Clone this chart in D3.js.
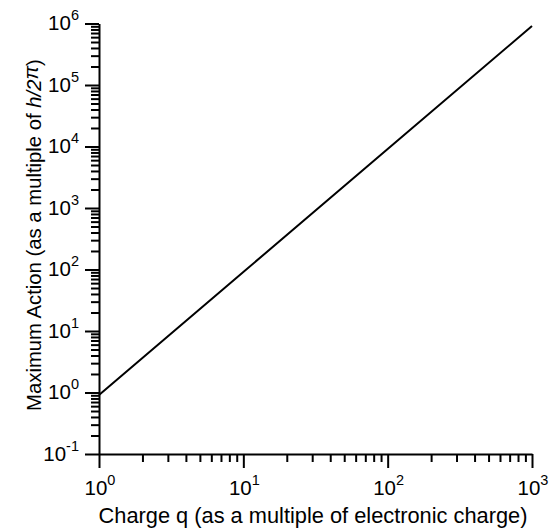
<!DOCTYPE html>
<html>
<head>
<meta charset="utf-8">
<script src="https://cdn.jsdelivr.net/npm/d3@7"></script>
<style>
  body { margin: 0; background: white; }
  text { font-family: "Liberation Sans", Arial, sans-serif; fill: black; }
</style>
</head>
<body>
<div id="canvas"></div>
<script>
// data
const charge = [1, 10, 100, 1000];
const maxAction = [0.91, 91, 9100, 910000];
const xMajorTicks = [1, 10, 100, 1000];
const xTickExponents = ["0", "1", "2", "3"];
const yMajorTicks = [0.1, 1, 10, 100, 1000, 10000, 100000, 1000000];
const yTickExponents = ["-1", "0", "1", "2", "3", "4", "5", "6"];

const width = 549, height = 529;

const svg = d3.select("#canvas")
    .append("svg")
    .attr("width", width)
    .attr("height", height);

// scales
const x = d3.scaleLog()
    .domain([1, 1000])
    .range([99, 532]);

const y = d3.scaleLog()
    .domain([0.1, 1000000])
    .range([454, 23.5]);

// minor ticks 2..9 in every decade
function minorTicks(majors) {
    let out = [];
    majors.slice(0, -1).forEach(m => {
        for (let k = 2; k <= 9; k++) out.push(m * k);
    });
    return out;
}

// x axis
svg.append("g")
    .attr("transform", "translate(0," + y(0.1) + ")")
    .call(d3.axisBottom(x).tickValues(minorTicks(xMajorTicks)).tickSize(8).tickFormat(""))
    .call(g => g.select(".domain").remove());

svg.append("g")
    .attr("transform", "translate(0," + y(0.1) + ")")
    .call(d3.axisBottom(x).tickValues(xMajorTicks).tickSize(14).tickSizeOuter(0).tickFormat(""));

// y axis
svg.append("g")
    .attr("transform", "translate(" + x(1) + ",0)")
    .call(d3.axisLeft(y).tickValues(minorTicks(yMajorTicks)).tickSize(8).tickFormat(""))
    .call(g => g.select(".domain").remove());

svg.append("g")
    .attr("transform", "translate(" + x(1) + ",0)")
    .call(d3.axisLeft(y).tickValues(yMajorTicks).tickSize(14).tickSizeOuter(0).tickFormat(""));

svg.selectAll(".tick line, .domain")
    .attr("stroke", "black")
    .attr("stroke-width", 2);

// tick labels with superscripts
const xLabel = svg.selectAll(".xlab")
    .data(xMajorTicks)
    .join("text")
    .attr("class", "xlab")
    .attr("x", d => x(d) + 1)
    .attr("y", y(0.1) + 41)
    .attr("text-anchor", "middle")
    .attr("font-size", 20.5);
xLabel.append("tspan").text("10");
xLabel.append("tspan")
    .attr("font-size", 14.5)
    .attr("dy", -10)
    .text((d, i) => xTickExponents[i]);

const yLabel = svg.selectAll(".ylab")
    .data(yMajorTicks)
    .join("text")
    .attr("class", "ylab")
    .attr("x", 79)
    .attr("y", d => y(d) + 6.5)
    .attr("text-anchor", "end")
    .attr("font-size", 20.5);
yLabel.append("tspan").text("10");
yLabel.append("tspan")
    .attr("font-size", 14.5)
    .attr("dy", -10)
    .text((d, i) => yTickExponents[i]);

// line
svg.append("path")
    .datum(charge.map((d, i) => [d, maxAction[i]]))
    .attr("fill", "none")
    .attr("stroke", "black")
    .attr("stroke-width", 2)
    .attr("d", d3.line()
        .x(d => x(d[0]))
        .y(d => y(d[1])));

// axis titles
svg.append("text")
    .attr("x", 313)
    .attr("y", 523)
    .attr("text-anchor", "middle")
    .attr("font-size", 21.8)
    .text("Charge q (as a multiple of electronic charge)");

const yTitle = svg.append("text")
    .attr("transform", "translate(41,235) rotate(-90)")
    .attr("text-anchor", "middle")
    .attr("font-size", 20.3);
yTitle.append("tspan").text("Maximum Action (as a multiple of ");
yTitle.append("tspan").attr("font-style", "italic").text("h/2");
yTitle.append("tspan").attr("font-style", "italic").attr("dy", -3).text("π");
yTitle.append("tspan").attr("dy", 3).text(")");
</script>
</body>
</html>
